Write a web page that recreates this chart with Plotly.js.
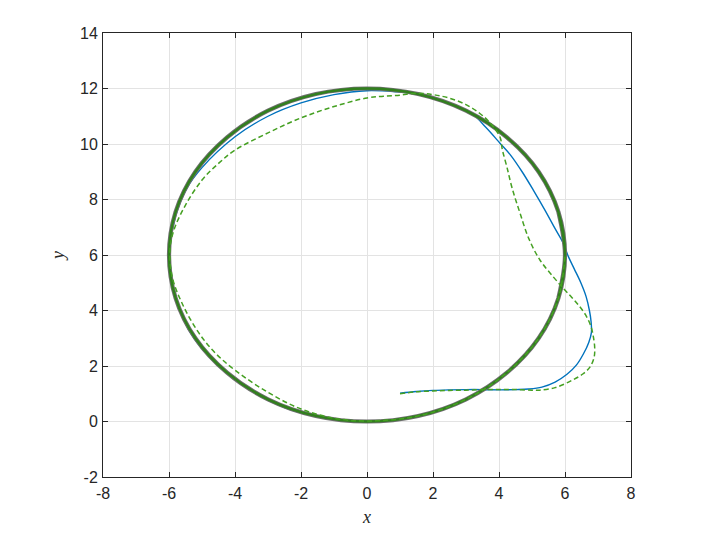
<!DOCTYPE html>
<html>
<head>
<meta charset="utf-8">
<script src="https://cdn.plot.ly/plotly-3.0.1.min.js"></script>
<style>html,body{margin:0;padding:0;background:#fff;}#chart{width:711px;height:552px;}</style>
</head>
<body>
<div id="chart"></div>
<script>
// Limit cycle (circle centred at (0,6), radius 6)
var cycleX = [5.80, 6.00, 5.80, 5.20, 4.24, 3.00, 1.55, 0.00, -1.55, -3.00, -4.24, -5.20, -5.80, -6.00, -5.80, -5.20, -4.24, -3.00, -1.55, 0.00, 1.55, 3.00, 4.24, 5.20, 5.80, 6.00, 5.80];
var cycleY = [4.45, 6.00, 7.55, 9.00, 10.24, 11.20, 11.80, 12.00, 11.80, 11.20, 10.24, 9.00, 7.55, 6.00, 4.45, 3.00, 1.76, 0.80, 0.20, 0.00, 0.20, 0.80, 1.76, 3.00, 4.45, 6.00, 7.55];

// Blue solid trajectory
var blueX = [1.00, 1.50, 2.00, 2.50, 3.00, 3.50, 4.00, 4.50, 4.90, 5.30, 5.70, 6.06, 6.35, 6.56, 6.72, 6.80, 6.79, 6.74, 6.64, 6.48, 6.28, 6.10, 5.95, 5.70, 5.40, 5.04, 4.70, 4.35, 4.03, 3.60, 3.20, 2.70, 2.20, 1.50, 0.90, 0.00, -1.00, -2.00, -3.00, -4.00, -5.00, -5.46, -5.80, -5.97, -5.95, -5.75, -5.30, -4.50, -3.50, -2.50, -1.50, 0.00, 1.55, 3.00, 4.24, 5.20, 5.80];
var blueY = [1.02, 1.08, 1.12, 1.14, 1.15, 1.15, 1.14, 1.15, 1.17, 1.24, 1.42, 1.70, 2.04, 2.44, 2.85, 3.20, 3.60, 4.00, 4.50, 5.00, 5.50, 5.95, 6.42, 6.95, 7.60, 8.34, 9.00, 9.60, 10.03, 10.60, 11.08, 11.38, 11.58, 11.80, 11.88, 11.92, 11.78, 11.48, 11.00, 10.26, 9.15, 8.40, 7.40, 6.30, 5.50, 4.30, 3.10, 2.00, 1.10, 0.50, 0.18, 0.00, 0.20, 0.80, 1.76, 3.00, 4.45];

// Green dashed trajectory
var greenX = [1.00, 1.50, 2.00, 2.50, 3.00, 3.50, 4.00, 4.50, 5.00, 5.24, 5.70, 6.24, 6.55, 6.76, 6.88, 6.90, 6.86, 6.78, 6.62, 6.42, 6.20, 5.94, 5.64, 5.24, 4.90, 4.64, 4.40, 4.24, 4.10, 4.03, 3.70, 3.42, 3.00, 2.50, 2.00, 1.50, 1.00, 0.50, 0.00, -1.00, -2.00, -3.00, -4.00, -4.50, -5.00, -5.50, -5.85, -5.97, -5.90, -5.58, -5.10, -4.60, -4.00, -3.00, -2.00, -1.00, 0.00, 1.55, 3.00, 4.24, 5.20, 5.80, 6.00];
var greenY = [1.00, 1.07, 1.10, 1.12, 1.13, 1.15, 1.15, 1.15, 1.13, 1.13, 1.22, 1.50, 1.72, 1.97, 2.30, 2.65, 3.05, 3.45, 3.85, 4.18, 4.48, 4.81, 5.22, 5.82, 6.60, 7.50, 8.40, 9.17, 9.80, 10.25, 10.80, 11.10, 11.42, 11.65, 11.78, 11.83, 11.76, 11.72, 11.66, 11.35, 10.94, 10.40, 9.78, 9.30, 8.70, 7.80, 6.90, 6.20, 5.20, 4.20, 3.20, 2.47, 1.85, 1.05, 0.45, 0.12, 0.02, 0.20, 0.80, 1.76, 3.00, 4.45, 6.00];

var xTicks = [-8, -6, -4, -2, 0, 2, 4, 6, 8];
var yTicks = [-2, 0, 2, 4, 6, 8, 10, 12, 14];

var traces = [
  {x: blueX, y: blueY, type: 'scatter', mode: 'lines', line: {color: '#0072BD', width: 1.4, shape: 'spline', smoothing: 1}, hoverinfo: 'skip'},
  {x: cycleX, y: cycleY, type: 'scatter', mode: 'lines', line: {color: '#6e6e6e', width: 4.2, shape: 'spline', smoothing: 1}, hoverinfo: 'skip'},
  {x: cycleX, y: cycleY, type: 'scatter', mode: 'lines', line: {color: '#31801d', width: 2.4, shape: 'spline', smoothing: 1}, hoverinfo: 'skip'},
  {x: greenX, y: greenY, type: 'scatter', mode: 'lines', line: {color: '#45a022', width: 1.5, dash: '5px,3px', shape: 'spline', smoothing: 1}, hoverinfo: 'skip'}
];

var axisCommon = {
  showgrid: true, gridcolor: '#e3e3e3', gridwidth: 1,
  zeroline: false, showline: true, linecolor: '#262626', linewidth: 1,
  mirror: 'ticks', ticks: 'inside', ticklen: 5, tickwidth: 1, tickcolor: '#262626',
  tickfont: {family: 'Liberation Sans, Arial, sans-serif', size: 16, color: '#262626'},
  fixedrange: true
};

var layout = {
  width: 711, height: 552,
  margin: {l: 103, r: 80, t: 33, b: 75},
  paper_bgcolor: '#ffffff', plot_bgcolor: '#ffffff',
  showlegend: false,
  xaxis: Object.assign({}, axisCommon, {
    range: [-8, 8], tickvals: xTicks, ticktext: xTicks.map(String), ticklabelstandoff: 2,
    title: {text: 'x', font: {family: 'Liberation Serif, serif', size: 18, color: '#262626', style: 'italic'}, standoff: 9}
  }),
  yaxis: Object.assign({}, axisCommon, {
    range: [-2, 14], tickvals: yTicks, ticktext: yTicks.map(String), ticklabelstandoff: 1,
    title: {text: 'y', font: {family: 'Liberation Serif, serif', size: 18, color: '#262626', style: 'italic'}, standoff: 10}
  })
};

Plotly.newPlot('chart', traces, layout, {displayModeBar: false, staticPlot: true});
</script>
</body>
</html>
